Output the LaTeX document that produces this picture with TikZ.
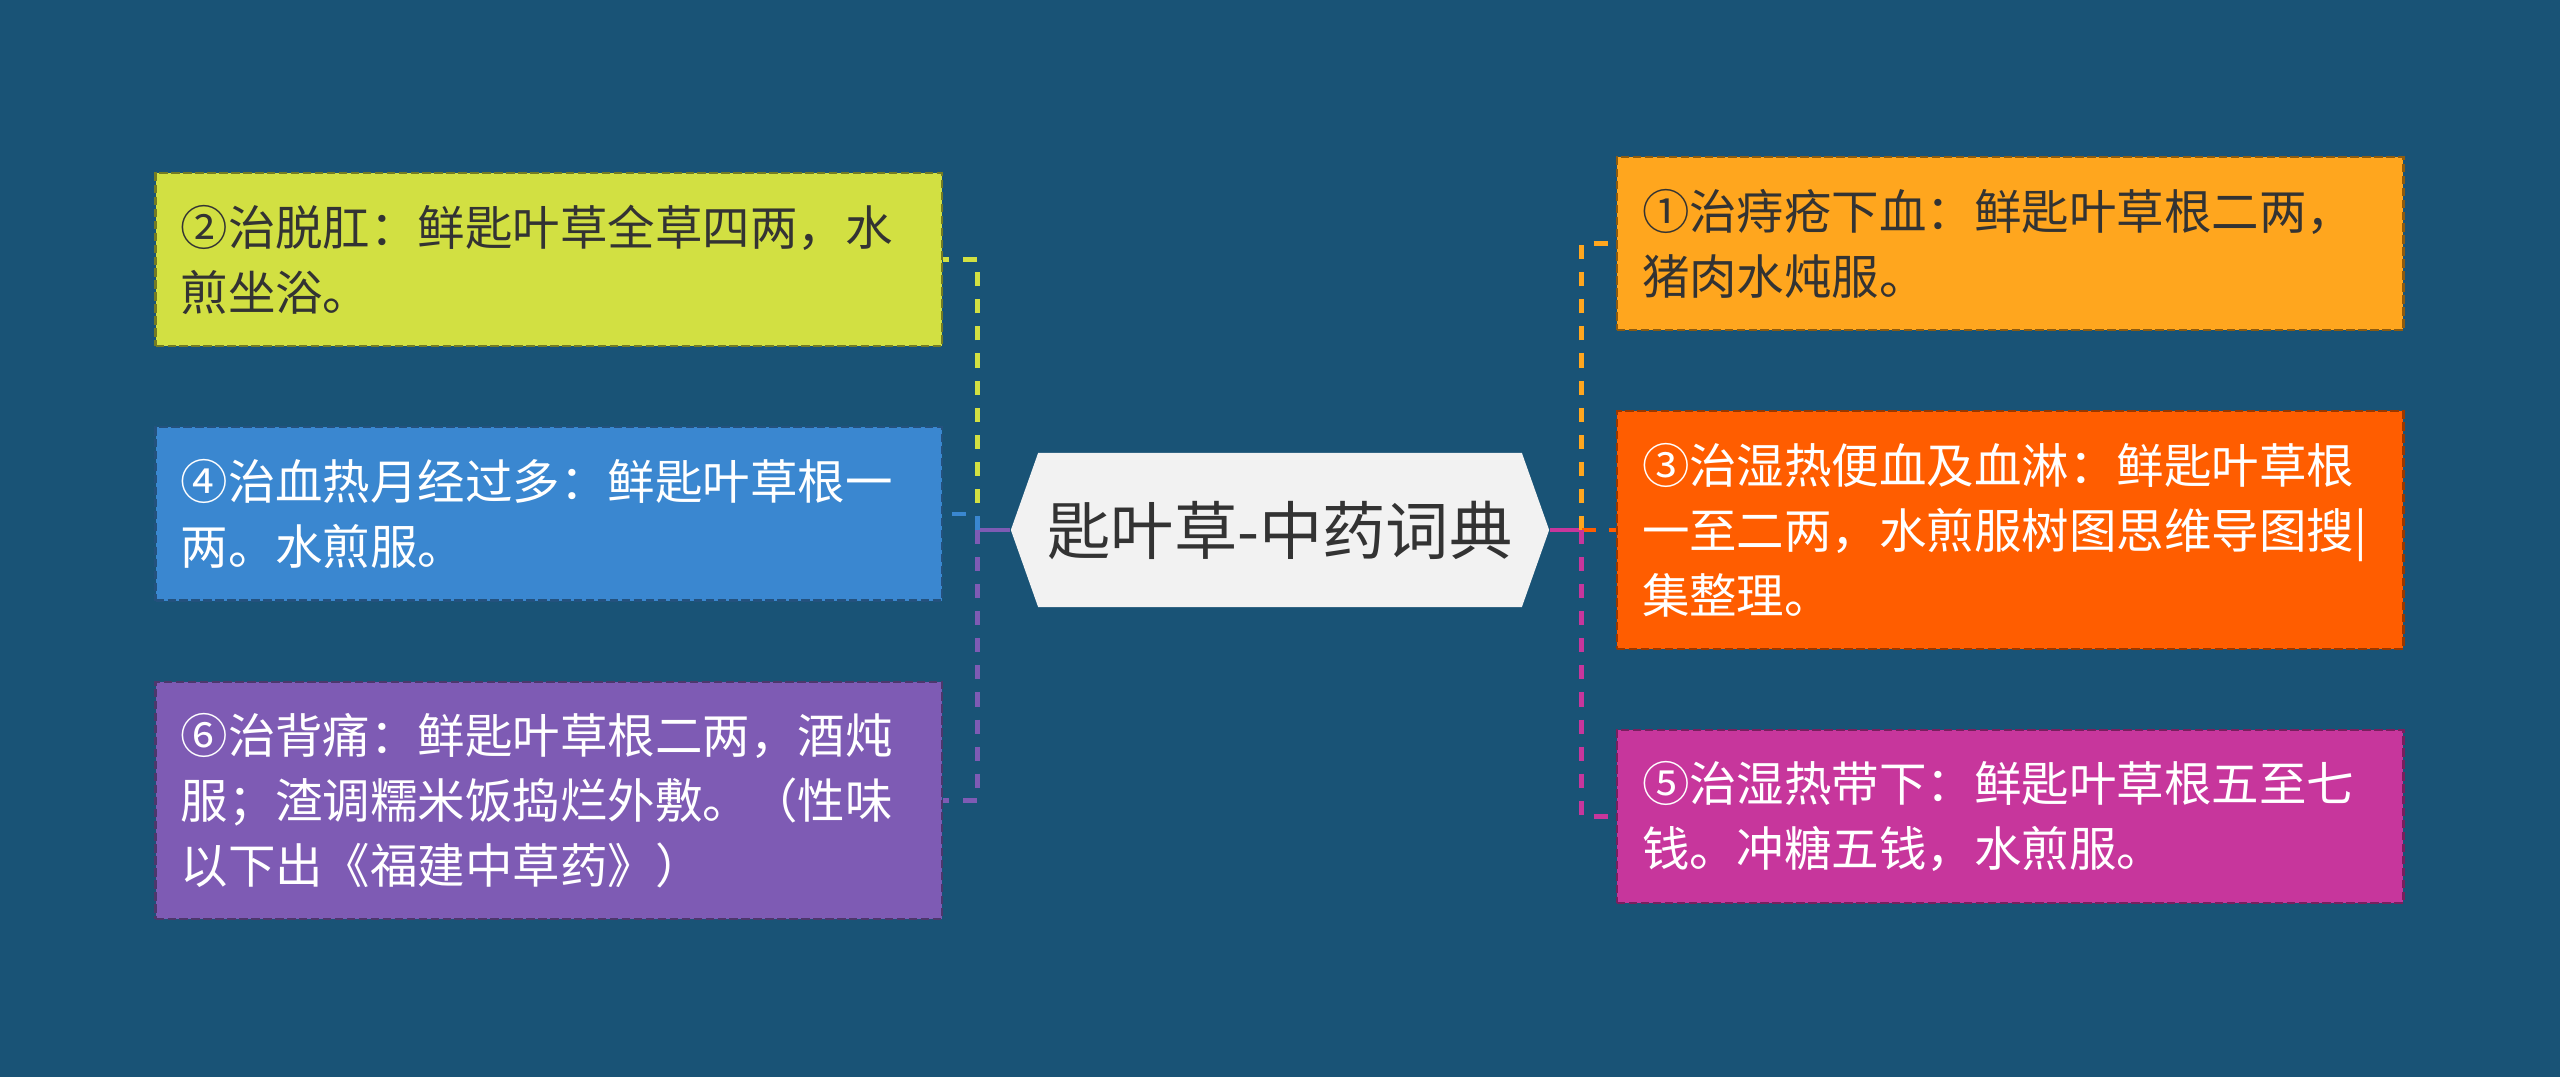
\documentclass[tikz,border=0pt]{standalone}
\usepackage{fontspec}
\setmainfont{Noto Sans CJK SC}
\usetikzlibrary{positioning,shapes.symbols}
\definecolor{bgblue}{RGB}{25,83,118}
\definecolor{lime}{RGB}{210,224,66}
\definecolor{skyblue}{RGB}{58,135,208}
\definecolor{grape}{RGB}{126,91,180}
\definecolor{amber}{RGB}{255,166,30}
\definecolor{tangerine}{RGB}{255,93,0}
\definecolor{berry}{RGB}{199,54,156}
\definecolor{ink}{RGB}{51,51,51}

\begin{document}
\begin{tikzpicture}[x=0.01cm, y=-0.01cm, node distance=0.79cm and 0.67cm,
  every node/.style={font=\fontsize{13.5pt}{18.5pt}\selectfont},
  leaf/.style={draw, dash pattern=on 2.4pt off 1pt, line width=0.6pt, align=left, text width=7.36cm,
    inner xsep=0.25cm, inner ysep=0pt, minimum height=1.73cm, text=white},
  tall/.style={minimum height=2.37cm},
  link/.style={line width=1.4pt},
  dlink/.style={link, dash pattern=on 4pt off 3.7pt}]
\useasboundingbox (0,0) rectangle (2560,1077);
\fill[bgblue] (0,0) rectangle (2560,1077);
\node[signal, signal to=west and east, signal pointer angle=141, fill=black!5, text=ink, inner xsep=2pt,
  font=\fontsize{18pt}{22pt}\selectfont, minimum width=5.38cm, minimum height=1.54cm] (root) at (1280,530) {匙叶草-中药词典};
% left branch
\node[leaf, fill=skyblue, draw=skyblue!60!black, left=0.67cm of root, yshift=0.16cm] (blood) {④治血热月经过多：鲜匙叶草根一\\两。水煎服。};
\node[leaf, fill=lime, draw=lime!55!black, text=ink, above=of blood] (prolapse) {②治脱肛：鲜匙叶草全草四两，水\\煎坐浴。};
\node[leaf, tall, fill=grape, draw=grape!60!black, below=of blood] (backache) {⑥治背痛：鲜匙叶草根二两，酒炖\\服；渣调糯米饭捣烂外敷。（性味\\以下出《福建中草药》）};
% right branch
\node[leaf, tall, fill=tangerine, draw=tangerine!60!black, right=0.66cm of root] (dampheat) {③治湿热便血及血淋：鲜匙叶草根\\一至二两，水煎服树图思维导图搜|\\集整理。};
\node[leaf, fill=amber, draw=amber!55!black, text=ink, above=of dampheat] (piles) {①治痔疮下血：鲜匙叶草根二两，\\猪肉水炖服。};
\node[leaf, fill=berry, draw=berry!60!black, below=of dampheat] (leucor) {⑤治湿热带下：鲜匙叶草根五至七\\钱。冲糖五钱，水煎服。};
\coordinate (lt) at ([xshift=-0.33cm]root.west);
\coordinate (rt) at ([xshift=0.32cm]root.east);
\draw[link, grape] (root.west) -- (lt);
\draw[dlink, lime] (lt) |- (prolapse.east); \draw[dlink, skyblue] (lt) |- (blood.east); \draw[dlink, grape] (lt) |- (backache.east);
\draw[link, berry] (root.east) -- (rt);
\draw[dlink, amber] (rt) |- (piles.west); \draw[dlink, tangerine] (rt) |- (dampheat.west); \draw[dlink, berry] (rt) |- (leucor.west);
\end{tikzpicture}
\end{document}
